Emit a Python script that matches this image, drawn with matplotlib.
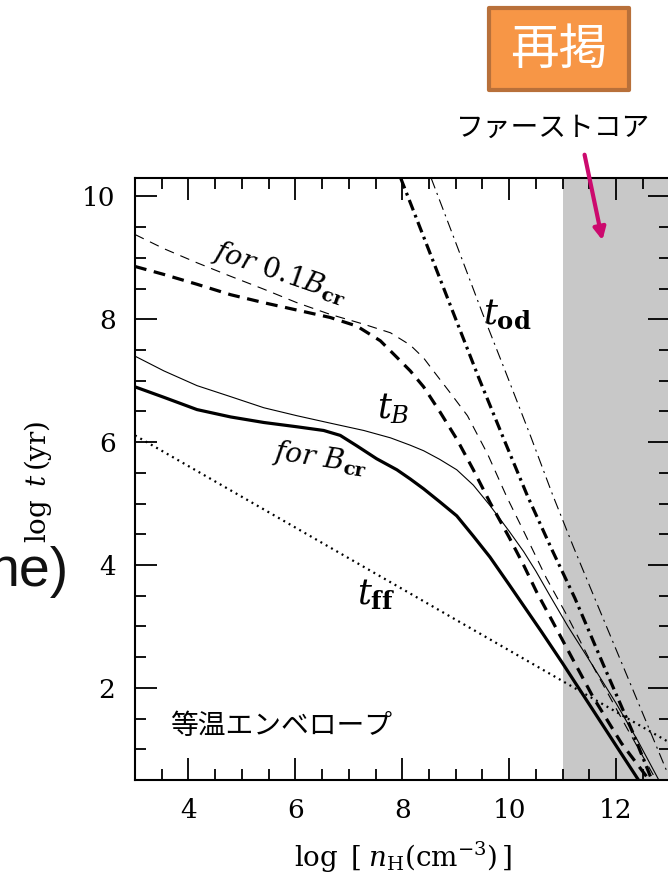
import matplotlib
matplotlib.use('Agg')
import matplotlib.pyplot as plt
from matplotlib.patches import Rectangle, FancyArrowPatch
from matplotlib.ticker import MultipleLocator

plt.rcParams['mathtext.fontset'] = 'dejavuserif'
plt.rcParams['lines.scale_dashes'] = False

# 磁場散逸の時間スケール (log n_H に対する log t)
# B_cr の場合: 太線 / 細線
bcr_thick_x = [3.0, 3.54, 4.16, 4.79, 5.41, 6.03, 6.53, 6.84, 7.15, 7.52, 7.9, 8.15, 8.4, 8.7, 9.02,
               9.33, 9.64, 10.0, 10.3, 10.6, 11.0, 11.5, 12.0, 12.42]
bcr_thick_y = [6.90, 6.73, 6.53, 6.41, 6.32, 6.25, 6.19, 6.11, 5.94, 5.73, 5.55, 5.40, 5.24, 5.03, 4.80,
               4.47, 4.13, 3.68, 3.30, 2.92, 2.40, 1.73, 1.06, 0.5]
bcr_thin_x = [3.0, 3.54, 4.16, 4.79, 5.41, 6.03, 6.65, 7.28, 7.78, 8.15, 8.4, 8.7, 9.02, 9.33, 9.64,
              10.0, 10.27, 10.5, 10.75, 11.1, 11.5, 12.0, 12.4, 12.8]
bcr_thin_y = [7.40, 7.16, 6.92, 6.74, 6.56, 6.43, 6.31, 6.19, 6.07, 5.95, 5.86, 5.72, 5.55, 5.30, 4.97,
              4.55, 4.22, 3.90, 3.52, 3.00, 2.45, 1.75, 1.15, 0.5]

# 0.1 B_cr の場合: 太破線 / 細破線
b01_thick_x = [3.0, 3.54, 4.16, 4.79, 5.41, 6.03, 6.65, 7.15, 7.59, 7.9, 8.15, 8.4, 8.7, 9.02, 9.33,
               9.64, 10.0, 10.27, 10.52, 10.8, 11.2, 11.57, 12.1, 12.62]
b01_thick_y = [8.86, 8.73, 8.57, 8.40, 8.27, 8.15, 8.03, 7.89, 7.65, 7.38, 7.16, 6.90, 6.50, 6.05, 5.55,
               5.02, 4.45, 4.00, 3.55, 3.10, 2.45, 1.85, 1.10, 0.5]
b01_thin_x = [3.0, 3.54, 4.16, 4.79, 5.41, 6.03, 6.65, 7.28, 7.78, 8.15, 8.4, 8.6, 8.9, 9.22, 9.6,
              9.96, 10.3, 10.7, 11.1, 11.6, 12.2, 12.75]
b01_thin_y = [9.38, 9.15, 8.92, 8.70, 8.49, 8.27, 8.08, 7.92, 7.78, 7.58, 7.37, 7.14, 6.80, 6.43, 5.80,
              5.10, 4.50, 3.78, 3.15, 2.30, 1.35, 0.5]

# t_od: 太一点鎖線 / 細一点鎖線
tod_thick_x = [7.97, 8.5, 8.93, 9.43, 9.9, 10.34, 10.8, 11.23, 11.8, 12.3, 12.67]
tod_thick_y = [10.3, 9.12, 8.16, 7.05, 6.05, 5.13, 4.25, 3.46, 2.3, 1.3, 0.5]
tod_thin_x = [8.54, 9.0, 9.5, 9.93, 10.4, 10.81, 11.2, 11.6, 12.3, 12.97]
tod_thin_y = [10.3, 9.25, 8.1, 7.15, 6.1, 5.15, 4.3, 3.46, 2.0, 0.6]

# t_ff: 点線
tff_x = [3.0, 5.0, 7.0, 9.0, 11.0, 13.0]
tff_y = [6.11, 5.11, 4.11, 3.11, 2.11, 1.11]

# ファーストコア領域
core_x0, core_x1 = 11.0, 13.0

xticks = [4, 6, 8, 10, 12]
yticks = [2, 4, 6, 8, 10]

W, H = 668, 876
fig = plt.figure(figsize=(W / 100, H / 100), dpi=100)

ax = fig.add_axes([135 / W, (H - 780) / H, (669.5 - 135) / W, (780 - 178) / H])
ax.axvspan(core_x0, core_x1, color='#c8c8c8', lw=0, zorder=0)

ax.plot(bcr_thick_x, bcr_thick_y, color='black', lw=2.3)
ax.plot(bcr_thin_x, bcr_thin_y, color='black', lw=0.8)
ax.plot(b01_thick_x, b01_thick_y, color='black', lw=2.3, dashes=(8.5, 5.5))
ax.plot(b01_thin_x, b01_thin_y, color='black', lw=0.8, dashes=(7, 5))
ax.plot(tod_thick_x, tod_thick_y, color='black', lw=2.3, dashes=(8, 3.5, 2, 3.5))
ax.plot(tod_thin_x, tod_thin_y, color='black', lw=0.8, dashes=(8, 3.5, 1.5, 3.5))
ax.plot(tff_x, tff_y, color='black', lw=1.6, dashes=(1.4, 3.0))

ax.set_xlim(3, 13)
ax.set_ylim(0.5, 10.3)
ax.set_xticks(xticks)
ax.set_yticks(yticks)
ax.xaxis.set_minor_locator(MultipleLocator(0.5))
ax.yaxis.set_minor_locator(MultipleLocator(0.5))
ax.tick_params(which='both', direction='in', top=True, right=True, width=1.3, colors='black')
ax.tick_params(which='major', length=16)
ax.tick_params(which='minor', length=8)
ax.tick_params(axis='y', which='major', pad=14)
ax.tick_params(axis='x', which='major', pad=13)
for lab in ax.get_xticklabels() + ax.get_yticklabels():
    lab.set_family('DejaVu Serif')
    lab.set_fontsize(19)
for sp in ax.spines.values():
    sp.set_linewidth(1.5)

# 曲線ラベル
ax.text(5.72, 8.76, r'$\mathit{for\ 0.1B}_{\mathbf{cr}}$', fontsize=20, rotation=-19,
        ha='center', va='center')
ax.text(6.47, 5.73, r'$\mathit{for\ B}_{\mathbf{cr}}$', fontsize=20, rotation=-8.5,
        ha='center', va='center')
ax.text(7.83, 6.54, r'$t_{B}$', fontsize=25, ha='center', va='center')
ax.text(9.96, 8.07, r'$t_{\mathbf{od}}$', fontsize=25, ha='center', va='center')
ax.text(7.51, 3.52, r'$t_{\mathbf{ff}}$', fontsize=25, ha='center', va='center')
ax.text(3.66, 1.38, '等温エンベロープ', fontsize=20, family=['Noto Sans CJK JP', 'DejaVu Sans'],
        ha='left', va='center')

# 軸ラベル
fig.text(38 / W, 1 - 482 / H, r'$\log\ t\,(\mathrm{yr})$', fontsize=20, rotation=90,
         ha='center', va='center')
fig.text(403 / W, 1 - 857 / H, r'$\log\ [\;n_{\mathrm{H}}(\mathrm{cm^{-3}})\,]$', fontsize=20,
         ha='center', va='center')

# 左隣の要素の切れ端
fig.text(69 / W, 1 - 572 / H, 'ne)', fontsize=40, family='Liberation Sans',
         ha='right', va='center', color='#111111')

# 再掲ボックス
fig.patches.append(Rectangle((489 / W, 1 - 90 / H), 140 / W, 82 / H, transform=fig.transFigure,
                             facecolor='#f79646', edgecolor='#b8703a', lw=3, joinstyle='round'))
fig.text(559 / W, 1 - 50 / H, '再掲', fontsize=35, color='white',
         family=['Noto Sans CJK JP', 'DejaVu Sans'], ha='center', va='center')

fig.text(553 / W, 1 - 128 / H, 'ファーストコア', fontsize=20,
         family=['Noto Sans CJK JP', 'DejaVu Sans'], ha='center', va='center')
fig.patches.append(FancyArrowPatch((584 / W, 1 - 152 / H), (603 / W, 1 - 243 / H),
                                   transform=fig.transFigure, arrowstyle='-|>',
                                   mutation_scale=18, lw=3, color='#cc0a6e'))

fig.savefig('out.png', dpi=100)
